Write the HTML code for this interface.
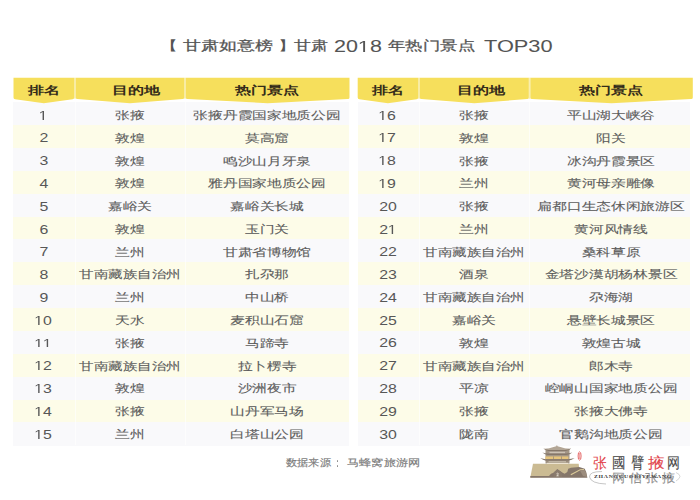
<!DOCTYPE html>
<html><head><meta charset="utf-8">
<style>
html,body{margin:0;padding:0;background:#fff;}
body{width:700px;height:500px;position:relative;overflow:hidden;font-family:"Liberation Sans",sans-serif;}
.a{position:absolute;}
.t{position:absolute;white-space:nowrap;text-align:center;z-index:3;}
.t span{display:inline-block;transform-origin:50% 50%;}
.row0{background:#f9f9fb;}
.row1{background:#fdfce8;}
.sep{position:absolute;width:1px;background:rgba(255,255,255,0.6);}
.c{color:#5c5c5c;-webkit-text-stroke:0.1px #5c5c5c;}
.n{color:#575757;}
.one{display:inline-block;width:0.5562em;height:0.688em;fill:currentColor;vertical-align:baseline;}
.h{color:#342c1a;font-weight:bold;}
</style></head><body>

<div class="a" style="left:158.57px;top:38.7px;font-size:13.4px;line-height:1;white-space:nowrap;color:#545454;transform-origin:0 0;transform:scaleX(1.460)">【</div>
<div class="a" style="left:182.53px;top:38.7px;font-size:13.4px;line-height:1;white-space:nowrap;color:#545454;-webkit-text-stroke:0.25px #545454;transform-origin:0 0;transform:scaleX(1.379)">甘肃如意榜</div>
<div class="a" style="left:278.41px;top:38.7px;font-size:13.4px;line-height:1;white-space:nowrap;color:#545454;transform-origin:0 0;transform:scaleX(1.428)">】</div>
<div class="a" style="left:294.05px;top:38.7px;font-size:13.4px;line-height:1;white-space:nowrap;color:#545454;-webkit-text-stroke:0.25px #545454;transform-origin:0 0;transform:scaleX(1.303)">甘肃</div>
<div class="a" style="left:333.92px;top:37.76px;font-size:16.3px;line-height:1;white-space:nowrap;color:#545454;-webkit-text-stroke:0.05px #545454;transform-origin:0 0;transform:scaleX(1.320)">20<svg class="one" viewBox="0 -1409 1139 1409"><path d="M515 0H696V-1409H530L197-1180V-1010L515-1237Z"/></svg>8</div>
<div class="a" style="left:387.72px;top:38.7px;font-size:13.4px;line-height:1;white-space:nowrap;color:#545454;-webkit-text-stroke:0.25px #545454;transform-origin:0 0;transform:scaleX(1.338)">年热门景点</div>
<div class="a" style="left:483.86px;top:37.76px;font-size:16.3px;line-height:1;white-space:nowrap;color:#545454;-webkit-text-stroke:0.05px #545454;transform-origin:0 0;transform:scaleX(1.337)">TOP30</div>
<svg class="a" style="left:0;top:0;z-index:2" width="700" height="500" viewBox="0 0 700 500">
<rect x="74.1" y="77.7" width="1.8" height="21" fill="#f9eeae"/>
<rect x="184.1" y="77.7" width="1.8" height="21" fill="#f9eeae"/>
<path d="M13.5 77.7H74.2V97.4Q74.2 99 72.6 99.22L43.85 103.2L15.1 99.22Q13.5 99 13.5 97.4Z" fill="#f6df5c"/>
<path d="M75.8 77.7H184.2V97.4Q184.2 99 182.6 99.12L130 103.2L77.4 99.12Q75.8 99 75.8 97.4Z" fill="#f6df5c"/>
<path d="M185.8 77.7H349.5V97.4Q349.5 99 347.9 99.08L267.65 103.2L187.4 99.08Q185.8 99 185.8 97.4Z" fill="#f6df5c"/>
<rect x="418.1" y="77.7" width="1.8" height="21" fill="#f9eeae"/>
<rect x="528.7" y="77.7" width="1.8" height="21" fill="#f9eeae"/>
<path d="M357.7 77.7H418.2V97.4Q418.2 99 416.6 99.22L387.95 103.2L359.3 99.22Q357.7 99 357.7 97.4Z" fill="#f6df5c"/>
<path d="M419.8 77.7H528.8V97.4Q528.8 99 527.2 99.12L474.3 103.2L421.4 99.12Q419.8 99 419.8 97.4Z" fill="#f6df5c"/>
<path d="M530.4 77.7H692.8V97.4Q692.8 99 691.2 99.08L611.6 103.2L532 99.08Q530.4 99 530.4 97.4Z" fill="#f6df5c"/>
</svg>
<div class="a row0" style="left:13.3px;top:102.2px;width:335.5px;height:23.17px"></div>
<div class="a row1" style="left:13.3px;top:125.07px;width:335.5px;height:23.17px"></div>
<div class="a row0" style="left:13.3px;top:147.94px;width:335.5px;height:23.17px"></div>
<div class="a row1" style="left:13.3px;top:170.81px;width:335.5px;height:23.17px"></div>
<div class="a row0" style="left:13.3px;top:193.68px;width:335.5px;height:23.17px"></div>
<div class="a row1" style="left:13.3px;top:216.55px;width:335.5px;height:23.17px"></div>
<div class="a row0" style="left:13.3px;top:239.42px;width:335.5px;height:23.17px"></div>
<div class="a row1" style="left:13.3px;top:262.29px;width:335.5px;height:23.17px"></div>
<div class="a row0" style="left:13.3px;top:285.16px;width:335.5px;height:23.17px"></div>
<div class="a row1" style="left:13.3px;top:308.03px;width:335.5px;height:23.17px"></div>
<div class="a row0" style="left:13.3px;top:330.9px;width:335.5px;height:23.17px"></div>
<div class="a row1" style="left:13.3px;top:353.77px;width:335.5px;height:23.17px"></div>
<div class="a row0" style="left:13.3px;top:376.64px;width:335.5px;height:23.17px"></div>
<div class="a row1" style="left:13.3px;top:399.51px;width:335.5px;height:23.17px"></div>
<div class="a row0" style="left:13.3px;top:422.38px;width:335.5px;height:23.17px"></div>
<div class="sep" style="left:74.5px;top:102.2px;height:343.05px"></div>
<div class="sep" style="left:184.5px;top:102.2px;height:343.05px"></div>
<div class="t h" style="left:44.25px;top:77.7px;height:24px;line-height:24px;font-size:11.1px"><span style="transform:translateX(-50%) scaleX(1.46)">排名</span></div>
<div class="t h" style="left:136.3px;top:77.7px;height:24px;line-height:24px;font-size:11.1px"><span style="transform:translateX(-50%) scaleX(1.46)">目的地</span></div>
<div class="t h" style="left:267.25px;top:77.7px;height:24px;line-height:24px;font-size:11.1px"><span style="transform:translateX(-50%) scaleX(1.46)">热门景点</span></div>
<div class="t n" style="left:43.35px;top:104.65px;height:22.87px;line-height:22.87px;font-size:13px"><span style="transform:translateX(-50%) scaleX(1.22)"><svg class="one" viewBox="0 -1409 1139 1409"><path d="M515 0H696V-1409H530L197-1180V-1010L515-1237Z"/></svg></span></div>
<div class="t c" style="left:130px;top:104.15px;height:22.87px;line-height:22.87px;font-size:11.1px"><span style="transform:translateX(-50%) scaleX(1.34)">张掖</span></div>
<div class="t c" style="left:267.25px;top:104.15px;height:22.87px;line-height:22.87px;font-size:11.1px"><span style="transform:translateX(-50%) scaleX(1.34)">张掖丹霞国家地质公园</span></div>
<div class="t n" style="left:44.25px;top:127.43px;height:22.87px;line-height:22.87px;font-size:13px"><span style="transform:translateX(-50%) scaleX(1.22)">2</span></div>
<div class="t c" style="left:130px;top:126.91px;height:22.87px;line-height:22.87px;font-size:11.1px"><span style="transform:translateX(-50%) scaleX(1.34)">敦煌</span></div>
<div class="t c" style="left:267.25px;top:126.91px;height:22.87px;line-height:22.87px;font-size:11.1px"><span style="transform:translateX(-50%) scaleX(1.34)">莫高窟</span></div>
<div class="t n" style="left:44.25px;top:150.21px;height:22.87px;line-height:22.87px;font-size:13px"><span style="transform:translateX(-50%) scaleX(1.22)">3</span></div>
<div class="t c" style="left:130px;top:149.67px;height:22.87px;line-height:22.87px;font-size:11.1px"><span style="transform:translateX(-50%) scaleX(1.34)">敦煌</span></div>
<div class="t c" style="left:267.25px;top:149.67px;height:22.87px;line-height:22.87px;font-size:11.1px"><span style="transform:translateX(-50%) scaleX(1.34)">鸣沙山月牙泉</span></div>
<div class="t n" style="left:44.25px;top:172.99px;height:22.87px;line-height:22.87px;font-size:13px"><span style="transform:translateX(-50%) scaleX(1.22)">4</span></div>
<div class="t c" style="left:130px;top:172.43px;height:22.87px;line-height:22.87px;font-size:11.1px"><span style="transform:translateX(-50%) scaleX(1.34)">敦煌</span></div>
<div class="t c" style="left:267.25px;top:172.43px;height:22.87px;line-height:22.87px;font-size:11.1px"><span style="transform:translateX(-50%) scaleX(1.34)">雅丹国家地质公园</span></div>
<div class="t n" style="left:44.25px;top:195.77px;height:22.87px;line-height:22.87px;font-size:13px"><span style="transform:translateX(-50%) scaleX(1.22)">5</span></div>
<div class="t c" style="left:130px;top:195.19px;height:22.87px;line-height:22.87px;font-size:11.1px"><span style="transform:translateX(-50%) scaleX(1.34)">嘉峪关</span></div>
<div class="t c" style="left:267.25px;top:195.19px;height:22.87px;line-height:22.87px;font-size:11.1px"><span style="transform:translateX(-50%) scaleX(1.34)">嘉峪关长城</span></div>
<div class="t n" style="left:44.25px;top:218.55px;height:22.87px;line-height:22.87px;font-size:13px"><span style="transform:translateX(-50%) scaleX(1.22)">6</span></div>
<div class="t c" style="left:130px;top:217.95px;height:22.87px;line-height:22.87px;font-size:11.1px"><span style="transform:translateX(-50%) scaleX(1.34)">敦煌</span></div>
<div class="t c" style="left:267.25px;top:217.95px;height:22.87px;line-height:22.87px;font-size:11.1px"><span style="transform:translateX(-50%) scaleX(1.34)">玉门关</span></div>
<div class="t n" style="left:44.25px;top:241.33px;height:22.87px;line-height:22.87px;font-size:13px"><span style="transform:translateX(-50%) scaleX(1.22)">7</span></div>
<div class="t c" style="left:130px;top:240.71px;height:22.87px;line-height:22.87px;font-size:11.1px"><span style="transform:translateX(-50%) scaleX(1.34)">兰州</span></div>
<div class="t c" style="left:267.25px;top:240.71px;height:22.87px;line-height:22.87px;font-size:11.1px"><span style="transform:translateX(-50%) scaleX(1.34)">甘肃省博物馆</span></div>
<div class="t n" style="left:44.25px;top:264.11px;height:22.87px;line-height:22.87px;font-size:13px"><span style="transform:translateX(-50%) scaleX(1.22)">8</span></div>
<div class="t c" style="left:130px;top:263.47px;height:22.87px;line-height:22.87px;font-size:11.1px"><span style="transform:translateX(-50%) scaleX(1.317)">甘南藏族自治州</span></div>
<div class="t c" style="left:267.25px;top:263.47px;height:22.87px;line-height:22.87px;font-size:11.1px"><span style="transform:translateX(-50%) scaleX(1.34)">扎尕那</span></div>
<div class="t n" style="left:44.25px;top:286.89px;height:22.87px;line-height:22.87px;font-size:13px"><span style="transform:translateX(-50%) scaleX(1.22)">9</span></div>
<div class="t c" style="left:130px;top:286.23px;height:22.87px;line-height:22.87px;font-size:11.1px"><span style="transform:translateX(-50%) scaleX(1.34)">兰州</span></div>
<div class="t c" style="left:267.25px;top:286.23px;height:22.87px;line-height:22.87px;font-size:11.1px"><span style="transform:translateX(-50%) scaleX(1.34)">中山桥</span></div>
<div class="t n" style="left:43.35px;top:309.67px;height:22.87px;line-height:22.87px;font-size:13px"><span style="transform:translateX(-50%) scaleX(1.22)"><svg class="one" viewBox="0 -1409 1139 1409"><path d="M515 0H696V-1409H530L197-1180V-1010L515-1237Z"/></svg>0</span></div>
<div class="t c" style="left:130px;top:308.99px;height:22.87px;line-height:22.87px;font-size:11.1px"><span style="transform:translateX(-50%) scaleX(1.34)">天水</span></div>
<div class="t c" style="left:267.25px;top:308.99px;height:22.87px;line-height:22.87px;font-size:11.1px"><span style="transform:translateX(-50%) scaleX(1.34)">麦积山石窟</span></div>
<div class="t n" style="left:43.35px;top:332.45px;height:22.87px;line-height:22.87px;font-size:13px"><span style="transform:translateX(-50%) scaleX(1.22)"><svg class="one" viewBox="0 -1409 1139 1409"><path d="M515 0H696V-1409H530L197-1180V-1010L515-1237Z"/></svg><svg class="one" viewBox="0 -1409 1139 1409"><path d="M515 0H696V-1409H530L197-1180V-1010L515-1237Z"/></svg></span></div>
<div class="t c" style="left:130px;top:331.75px;height:22.87px;line-height:22.87px;font-size:11.1px"><span style="transform:translateX(-50%) scaleX(1.34)">张掖</span></div>
<div class="t c" style="left:267.25px;top:331.75px;height:22.87px;line-height:22.87px;font-size:11.1px"><span style="transform:translateX(-50%) scaleX(1.34)">马蹄寺</span></div>
<div class="t n" style="left:43.35px;top:355.23px;height:22.87px;line-height:22.87px;font-size:13px"><span style="transform:translateX(-50%) scaleX(1.22)"><svg class="one" viewBox="0 -1409 1139 1409"><path d="M515 0H696V-1409H530L197-1180V-1010L515-1237Z"/></svg>2</span></div>
<div class="t c" style="left:130px;top:354.51px;height:22.87px;line-height:22.87px;font-size:11.1px"><span style="transform:translateX(-50%) scaleX(1.317)">甘南藏族自治州</span></div>
<div class="t c" style="left:267.25px;top:354.51px;height:22.87px;line-height:22.87px;font-size:11.1px"><span style="transform:translateX(-50%) scaleX(1.34)">拉卜楞寺</span></div>
<div class="t n" style="left:43.35px;top:378.01px;height:22.87px;line-height:22.87px;font-size:13px"><span style="transform:translateX(-50%) scaleX(1.22)"><svg class="one" viewBox="0 -1409 1139 1409"><path d="M515 0H696V-1409H530L197-1180V-1010L515-1237Z"/></svg>3</span></div>
<div class="t c" style="left:130px;top:377.27px;height:22.87px;line-height:22.87px;font-size:11.1px"><span style="transform:translateX(-50%) scaleX(1.34)">敦煌</span></div>
<div class="t c" style="left:267.25px;top:377.27px;height:22.87px;line-height:22.87px;font-size:11.1px"><span style="transform:translateX(-50%) scaleX(1.34)">沙洲夜市</span></div>
<div class="t n" style="left:43.35px;top:400.79px;height:22.87px;line-height:22.87px;font-size:13px"><span style="transform:translateX(-50%) scaleX(1.22)"><svg class="one" viewBox="0 -1409 1139 1409"><path d="M515 0H696V-1409H530L197-1180V-1010L515-1237Z"/></svg>4</span></div>
<div class="t c" style="left:130px;top:400.03px;height:22.87px;line-height:22.87px;font-size:11.1px"><span style="transform:translateX(-50%) scaleX(1.34)">张掖</span></div>
<div class="t c" style="left:267.25px;top:400.03px;height:22.87px;line-height:22.87px;font-size:11.1px"><span style="transform:translateX(-50%) scaleX(1.34)">山丹军马场</span></div>
<div class="t n" style="left:43.35px;top:423.57px;height:22.87px;line-height:22.87px;font-size:13px"><span style="transform:translateX(-50%) scaleX(1.22)"><svg class="one" viewBox="0 -1409 1139 1409"><path d="M515 0H696V-1409H530L197-1180V-1010L515-1237Z"/></svg>5</span></div>
<div class="t c" style="left:130px;top:422.79px;height:22.87px;line-height:22.87px;font-size:11.1px"><span style="transform:translateX(-50%) scaleX(1.34)">兰州</span></div>
<div class="t c" style="left:267.25px;top:422.79px;height:22.87px;line-height:22.87px;font-size:11.1px"><span style="transform:translateX(-50%) scaleX(1.34)">白塔山公园</span></div>
<div class="a row0" style="left:358.4px;top:102.2px;width:332.1px;height:23.17px"></div>
<div class="a row1" style="left:358.4px;top:125.07px;width:332.1px;height:23.17px"></div>
<div class="a row0" style="left:358.4px;top:147.94px;width:332.1px;height:23.17px"></div>
<div class="a row1" style="left:358.4px;top:170.81px;width:332.1px;height:23.17px"></div>
<div class="a row0" style="left:358.4px;top:193.68px;width:332.1px;height:23.17px"></div>
<div class="a row1" style="left:358.4px;top:216.55px;width:332.1px;height:23.17px"></div>
<div class="a row0" style="left:358.4px;top:239.42px;width:332.1px;height:23.17px"></div>
<div class="a row1" style="left:358.4px;top:262.29px;width:332.1px;height:23.17px"></div>
<div class="a row0" style="left:358.4px;top:285.16px;width:332.1px;height:23.17px"></div>
<div class="a row1" style="left:358.4px;top:308.03px;width:332.1px;height:23.17px"></div>
<div class="a row0" style="left:358.4px;top:330.9px;width:332.1px;height:23.17px"></div>
<div class="a row1" style="left:358.4px;top:353.77px;width:332.1px;height:23.17px"></div>
<div class="a row0" style="left:358.4px;top:376.64px;width:332.1px;height:23.17px"></div>
<div class="a row1" style="left:358.4px;top:399.51px;width:332.1px;height:23.17px"></div>
<div class="a row0" style="left:358.4px;top:422.38px;width:332.1px;height:23.17px"></div>
<div class="sep" style="left:418.5px;top:102.2px;height:343.05px"></div>
<div class="sep" style="left:529.1px;top:102.2px;height:343.05px"></div>
<div class="t h" style="left:388.35px;top:77.7px;height:24px;line-height:24px;font-size:11.1px"><span style="transform:translateX(-50%) scaleX(1.46)">排名</span></div>
<div class="t h" style="left:480.6px;top:77.7px;height:24px;line-height:24px;font-size:11.1px"><span style="transform:translateX(-50%) scaleX(1.46)">目的地</span></div>
<div class="t h" style="left:611.2px;top:77.7px;height:24px;line-height:24px;font-size:11.1px"><span style="transform:translateX(-50%) scaleX(1.46)">热门景点</span></div>
<div class="t n" style="left:387.45px;top:104.65px;height:22.87px;line-height:22.87px;font-size:13px"><span style="transform:translateX(-50%) scaleX(1.22)"><svg class="one" viewBox="0 -1409 1139 1409"><path d="M515 0H696V-1409H530L197-1180V-1010L515-1237Z"/></svg>6</span></div>
<div class="t c" style="left:474.3px;top:104.15px;height:22.87px;line-height:22.87px;font-size:11.1px"><span style="transform:translateX(-50%) scaleX(1.34)">张掖</span></div>
<div class="t c" style="left:611.2px;top:104.15px;height:22.87px;line-height:22.87px;font-size:11.1px"><span style="transform:translateX(-50%) scaleX(1.34)">平山湖大峡谷</span></div>
<div class="t n" style="left:387.45px;top:127.43px;height:22.87px;line-height:22.87px;font-size:13px"><span style="transform:translateX(-50%) scaleX(1.22)"><svg class="one" viewBox="0 -1409 1139 1409"><path d="M515 0H696V-1409H530L197-1180V-1010L515-1237Z"/></svg>7</span></div>
<div class="t c" style="left:474.3px;top:126.91px;height:22.87px;line-height:22.87px;font-size:11.1px"><span style="transform:translateX(-50%) scaleX(1.34)">敦煌</span></div>
<div class="t c" style="left:611.2px;top:126.91px;height:22.87px;line-height:22.87px;font-size:11.1px"><span style="transform:translateX(-50%) scaleX(1.34)">阳关</span></div>
<div class="t n" style="left:387.45px;top:150.21px;height:22.87px;line-height:22.87px;font-size:13px"><span style="transform:translateX(-50%) scaleX(1.22)"><svg class="one" viewBox="0 -1409 1139 1409"><path d="M515 0H696V-1409H530L197-1180V-1010L515-1237Z"/></svg>8</span></div>
<div class="t c" style="left:474.3px;top:149.67px;height:22.87px;line-height:22.87px;font-size:11.1px"><span style="transform:translateX(-50%) scaleX(1.34)">张掖</span></div>
<div class="t c" style="left:611.2px;top:149.67px;height:22.87px;line-height:22.87px;font-size:11.1px"><span style="transform:translateX(-50%) scaleX(1.34)">冰沟丹霞景区</span></div>
<div class="t n" style="left:387.45px;top:172.99px;height:22.87px;line-height:22.87px;font-size:13px"><span style="transform:translateX(-50%) scaleX(1.22)"><svg class="one" viewBox="0 -1409 1139 1409"><path d="M515 0H696V-1409H530L197-1180V-1010L515-1237Z"/></svg>9</span></div>
<div class="t c" style="left:474.3px;top:172.43px;height:22.87px;line-height:22.87px;font-size:11.1px"><span style="transform:translateX(-50%) scaleX(1.34)">兰州</span></div>
<div class="t c" style="left:611.2px;top:172.43px;height:22.87px;line-height:22.87px;font-size:11.1px"><span style="transform:translateX(-50%) scaleX(1.34)">黄河母亲雕像</span></div>
<div class="t n" style="left:388.35px;top:195.77px;height:22.87px;line-height:22.87px;font-size:13px"><span style="transform:translateX(-50%) scaleX(1.22)">20</span></div>
<div class="t c" style="left:474.3px;top:195.19px;height:22.87px;line-height:22.87px;font-size:11.1px"><span style="transform:translateX(-50%) scaleX(1.34)">张掖</span></div>
<div class="t c" style="left:611.2px;top:195.19px;height:22.87px;line-height:22.87px;font-size:11.1px"><span style="transform:translateX(-50%) scaleX(1.34)">扁都口生态休闲旅游区</span></div>
<div class="t n" style="left:388.35px;top:218.55px;height:22.87px;line-height:22.87px;font-size:13px"><span style="transform:translateX(-50%) scaleX(1.22)">2<svg class="one" viewBox="0 -1409 1139 1409"><path d="M515 0H696V-1409H530L197-1180V-1010L515-1237Z"/></svg></span></div>
<div class="t c" style="left:474.3px;top:217.95px;height:22.87px;line-height:22.87px;font-size:11.1px"><span style="transform:translateX(-50%) scaleX(1.34)">兰州</span></div>
<div class="t c" style="left:611.2px;top:217.95px;height:22.87px;line-height:22.87px;font-size:11.1px"><span style="transform:translateX(-50%) scaleX(1.34)">黄河风情线</span></div>
<div class="t n" style="left:388.35px;top:241.33px;height:22.87px;line-height:22.87px;font-size:13px"><span style="transform:translateX(-50%) scaleX(1.22)">22</span></div>
<div class="t c" style="left:474.3px;top:240.71px;height:22.87px;line-height:22.87px;font-size:11.1px"><span style="transform:translateX(-50%) scaleX(1.317)">甘南藏族自治州</span></div>
<div class="t c" style="left:611.2px;top:240.71px;height:22.87px;line-height:22.87px;font-size:11.1px"><span style="transform:translateX(-50%) scaleX(1.34)">桑科草原</span></div>
<div class="t n" style="left:388.35px;top:264.11px;height:22.87px;line-height:22.87px;font-size:13px"><span style="transform:translateX(-50%) scaleX(1.22)">23</span></div>
<div class="t c" style="left:474.3px;top:263.47px;height:22.87px;line-height:22.87px;font-size:11.1px"><span style="transform:translateX(-50%) scaleX(1.34)">酒泉</span></div>
<div class="t c" style="left:611.2px;top:263.47px;height:22.87px;line-height:22.87px;font-size:11.1px"><span style="transform:translateX(-50%) scaleX(1.34)">金塔沙漠胡杨林景区</span></div>
<div class="t n" style="left:388.35px;top:286.89px;height:22.87px;line-height:22.87px;font-size:13px"><span style="transform:translateX(-50%) scaleX(1.22)">24</span></div>
<div class="t c" style="left:474.3px;top:286.23px;height:22.87px;line-height:22.87px;font-size:11.1px"><span style="transform:translateX(-50%) scaleX(1.317)">甘南藏族自治州</span></div>
<div class="t c" style="left:611.2px;top:286.23px;height:22.87px;line-height:22.87px;font-size:11.1px"><span style="transform:translateX(-50%) scaleX(1.34)">尕海湖</span></div>
<div class="t n" style="left:388.35px;top:309.67px;height:22.87px;line-height:22.87px;font-size:13px"><span style="transform:translateX(-50%) scaleX(1.22)">25</span></div>
<div class="t c" style="left:474.3px;top:308.99px;height:22.87px;line-height:22.87px;font-size:11.1px"><span style="transform:translateX(-50%) scaleX(1.34)">嘉峪关</span></div>
<div class="t c" style="left:611.2px;top:308.99px;height:22.87px;line-height:22.87px;font-size:11.1px"><span style="transform:translateX(-50%) scaleX(1.34)">悬壁长城景区</span></div>
<div class="t n" style="left:388.35px;top:332.45px;height:22.87px;line-height:22.87px;font-size:13px"><span style="transform:translateX(-50%) scaleX(1.22)">26</span></div>
<div class="t c" style="left:474.3px;top:331.75px;height:22.87px;line-height:22.87px;font-size:11.1px"><span style="transform:translateX(-50%) scaleX(1.34)">敦煌</span></div>
<div class="t c" style="left:611.2px;top:331.75px;height:22.87px;line-height:22.87px;font-size:11.1px"><span style="transform:translateX(-50%) scaleX(1.34)">敦煌古城</span></div>
<div class="t n" style="left:388.35px;top:355.23px;height:22.87px;line-height:22.87px;font-size:13px"><span style="transform:translateX(-50%) scaleX(1.22)">27</span></div>
<div class="t c" style="left:474.3px;top:354.51px;height:22.87px;line-height:22.87px;font-size:11.1px"><span style="transform:translateX(-50%) scaleX(1.317)">甘南藏族自治州</span></div>
<div class="t c" style="left:611.2px;top:354.51px;height:22.87px;line-height:22.87px;font-size:11.1px"><span style="transform:translateX(-50%) scaleX(1.34)">郎木寺</span></div>
<div class="t n" style="left:388.35px;top:378.01px;height:22.87px;line-height:22.87px;font-size:13px"><span style="transform:translateX(-50%) scaleX(1.22)">28</span></div>
<div class="t c" style="left:474.3px;top:377.27px;height:22.87px;line-height:22.87px;font-size:11.1px"><span style="transform:translateX(-50%) scaleX(1.34)">平凉</span></div>
<div class="t c" style="left:611.2px;top:377.27px;height:22.87px;line-height:22.87px;font-size:11.1px"><span style="transform:translateX(-50%) scaleX(1.34)">崆峒山国家地质公园</span></div>
<div class="t n" style="left:388.35px;top:400.79px;height:22.87px;line-height:22.87px;font-size:13px"><span style="transform:translateX(-50%) scaleX(1.22)">29</span></div>
<div class="t c" style="left:474.3px;top:400.03px;height:22.87px;line-height:22.87px;font-size:11.1px"><span style="transform:translateX(-50%) scaleX(1.34)">张掖</span></div>
<div class="t c" style="left:611.2px;top:400.03px;height:22.87px;line-height:22.87px;font-size:11.1px"><span style="transform:translateX(-50%) scaleX(1.34)">张掖大佛寺</span></div>
<div class="t n" style="left:388.35px;top:423.57px;height:22.87px;line-height:22.87px;font-size:13px"><span style="transform:translateX(-50%) scaleX(1.22)">30</span></div>
<div class="t c" style="left:474.3px;top:422.79px;height:22.87px;line-height:22.87px;font-size:11.1px"><span style="transform:translateX(-50%) scaleX(1.34)">陇南</span></div>
<div class="t c" style="left:611.2px;top:422.79px;height:22.87px;line-height:22.87px;font-size:11.1px"><span style="transform:translateX(-50%) scaleX(1.34)">官鹅沟地质公园</span></div>
<svg class="a" style="left:0;top:0" width="700" height="500" viewBox="0 0 700 500">
<polygon points="533,463.8 578.7,463.8 580,476.5 530.3,477.4" fill="#cbbb93"/>
<polygon points="530.3,476 549,476 551,473.8 553.6,472.8 557.3,469.1 562.7,472.8 564.6,473.7 567.3,471.9 568.2,468.7 571,467.8 576.4,467.3 579.2,466.9 584.7,468.7 586.2,472 587.4,477.8 530.3,477.8" fill="#85766a"/>
<polygon points="553.6,477 553.6,472.6 557.3,469.6 561.8,472.6 562.2,477" fill="#8a7b6d"/>
<path d="M556.5,473.8 q1.1-1.1 1.8-0.2 q0.3,0.9-1.6,2.2 h2" stroke="#f2ece0" stroke-width="0.8" fill="none"/>
<polygon points="570.5,474.3 580.1,469.2 583.8,469.1 584,469.9 580.3,470.2 571.2,475.2" fill="#dccb9a"/>
<polygon points="580,470.5 584.5,470 586.2,473 587,477 583,476" fill="#9c8d7e"/>
<rect x="545.5" y="448.8" width="24" height="14.6" fill="#a39686"/>
<path d="M543.4,448.6 Q546,450.6 549,451.2 L565,451.2 Q569,450.6 571.1,448.6 Q566,449.3 563,447.8 L557.6,446.2 L556.9,444.9 L556.2,446.2 L551,447.8 Q548,449.3 543.4,448.6 Z" fill="#b3a696"/>
<path d="M543.4,448.6 Q546,450.6 549,451.2 L565,451.2 Q569,450.6 571.1,448.6 Q568,450 565,450 L549,450 Q546,450 543.4,448.6Z" fill="#85776a"/>
<rect x="548" y="451.2" width="18.5" height="3.4" fill="#a3968a"/>
<rect x="549.5" y="451.8" width="15.5" height="1.6" fill="#cdc3b5"/>
<path d="M542.3,452.4 Q545,454.6 548,455.1 L566,455.1 Q570,454.6 572.3,452.4 Q569,453.4 566,453.6 L548,453.6 Q545,453.4 542.3,452.4Z" fill="#85776a"/>
<rect x="545.4" y="456.4" width="23" height="2.6" fill="#e6c47c"/>
<rect x="553" y="456.4" width="0.8" height="2.6" fill="#a08f7a"/>
<rect x="561" y="456.4" width="0.8" height="2.6" fill="#a08f7a"/>
<path d="M540.3,458.1 Q543,460.3 546,460.7 L568,460.7 Q572,460.3 574.6,458.1 Q571,459.1 568,459.2 L546,459.2 Q543,459.1 540.3,458.1Z" fill="#85776a"/>
<rect x="546.5" y="460.7" width="21.5" height="2.2" fill="#9b8d7d"/>
<rect x="548.5" y="461.1" width="17.5" height="1.2" fill="#c4b9a8"/>
<rect x="547" y="462.8" width="21" height="1.1" fill="#efe6d2"/>
<ellipse cx="579.6" cy="456" rx="1.5" ry="4.2" fill="#fdf0f0" stroke="#e04a4a" stroke-width="0.8"/>
<line x1="579.6" y1="453" x2="579.6" y2="459" stroke="#e86a6a" stroke-width="0.6"/>
<path d="M602,471.5 Q589,471.5 589.5,477 Q591,483.5 606,484" fill="none" stroke="#a0a0a0" stroke-width="0.6"/>
<path d="M676,472.5 Q684,476 676,481" fill="none" stroke="#b0b0b0" stroke-width="0.5"/>
</svg>
<div class="a" style="left:593px;top:454.2px;font-size:15px;line-height:17px;white-space:nowrap;color:#e2454c;-webkit-text-stroke:0.1px #e2454c;transform-origin:0 0;transform:scaleX(0.921)">张</div>
<div class="a" style="left:612.2px;top:454.2px;font-size:15px;line-height:17px;white-space:nowrap;color:#4a4a4a;-webkit-text-stroke:0.1px #4a4a4a;transform-origin:0 0;transform:scaleX(0.899)">國</div>
<div class="a" style="left:631.1px;top:454.2px;font-size:15px;line-height:17px;white-space:nowrap;color:#4a4a4a;-webkit-text-stroke:0.1px #4a4a4a;transform-origin:0 0;transform:scaleX(0.885)">臂</div>
<div class="a" style="left:647.5px;top:454.2px;font-size:15px;line-height:17px;white-space:nowrap;color:#e2454c;-webkit-text-stroke:0.1px #e2454c;transform-origin:0 0;transform:scaleX(1.115)">掖</div>
<div class="a" style="left:666.8px;top:454.2px;font-size:15px;line-height:17px;white-space:nowrap;color:#4a4a4a;-webkit-text-stroke:0.1px #4a4a4a;transform-origin:0 0;transform:scaleX(0.863)">网</div>
<div class="a" style="left:594px;top:474.2px;font-family:'Liberation Serif',serif;font-size:4.6px;line-height:5px;white-space:nowrap;color:#333;font-weight:bold;letter-spacing:0.6px;transform-origin:0 0;transform:scaleX(1.25)">ZHANGGUOBIYEWANG</div>
<div class="a" style="left:611.5px;top:470.8px;font-size:12.3px;line-height:14px;white-space:nowrap;color:rgba(85,85,85,0.6);-webkit-text-stroke:0.2px rgba(85,85,85,0.6);letter-spacing:3.2px;transform-origin:0 0;transform:scaleX(1.1)">网信张掖</div>
<div class="a" style="left:286.08px;top:457.6px;font-size:10.4px;line-height:1;white-space:nowrap;color:#7c7c7c;-webkit-text-stroke:0.15px #7c7c7c;transform-origin:0 0;transform:scaleX(1.121)">数据来源</div>
<div class="a" style="left:346.99px;top:457.6px;font-size:10.4px;line-height:1;white-space:nowrap;color:#7c7c7c;-webkit-text-stroke:0.15px #7c7c7c;transform-origin:0 0;transform:scaleX(1.218)">马蜂窝旅游网</div>
<div class="a" style="left:337.2px;top:460.3px;width:1.3px;height:1.3px;border-radius:1px;background:#8a8a8a"></div><div class="a" style="left:337.2px;top:465.3px;width:1.3px;height:1.3px;border-radius:1px;background:#8a8a8a"></div>
</body></html>
